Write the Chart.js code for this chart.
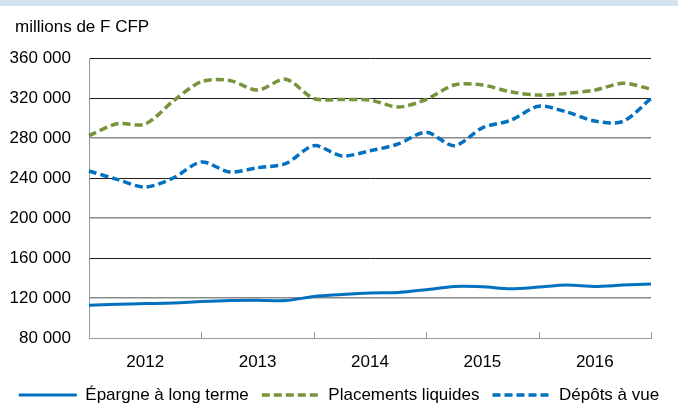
<!DOCTYPE html>
<html lang="fr">
<head>
<meta charset="UTF-8">
<title>Épargne des ménages</title>
<script src="https://cdn.jsdelivr.net/npm/chart.js"></script>
<style>
  body { margin: 0; background: #fff; }
  #cadre { position: relative; width: 678px; height: 415px; }
  #graphique { position: absolute; left: 0; top: 0; }
  #bandeau { position: absolute; left: 0; top: 0; width: 678px; height: 6px; background: #d5e2f2; }
  #unite { position: absolute; left: 15px; top: 17px; font: 17px "Liberation Sans", Arial, sans-serif; color: #000; }
</style>
</head>
<body>
<div id="cadre">
  <canvas id="graphique" width="678" height="415"></canvas>
  <div id="bandeau"></div>
  <div id="unite">millions de F CFP</div>
</div>
<script>
// trimestres (fin de période), de fin 2011 à fin 2016
const trimestres = [
  'T4 2011',
  'T1 2012', 'T2 2012', 'T3 2012', 'T4 2012',
  'T1 2013', 'T2 2013', 'T3 2013', 'T4 2013',
  'T1 2014', 'T2 2014', 'T3 2014', 'T4 2014',
  'T1 2015', 'T2 2015', 'T3 2015', 'T4 2015',
  'T1 2016', 'T2 2016', 'T3 2016', 'T4 2016'
];
const annees = ['2012', '2013', '2014', '2015', '2016'];

// valeurs en millions de F CFP
const epargneLongTerme = [112700, 113700, 114400, 115100, 116400, 117400, 117700, 117400, 121500, 123500, 125000,
  125500, 128300, 131600, 131300, 129300, 130900, 132900, 131600, 132900, 133900];
const placementsLiquides = [282400, 294200, 294000, 317000, 336300, 337500, 327900, 338700, 319500, 318500, 318000,
  311000, 318500, 333000, 333000, 326200, 322900, 324600, 327900, 334700, 328900];
const depotsAVue = [247000, 238600, 231000, 240000, 256000, 246000, 250300, 254400, 272300, 262100, 267200,
  274000, 285700, 272300, 290200, 297600, 311700, 306000, 296900, 296600, 319500];

const bleu = '#0070c0';
const vert = '#77933c';

Chart.defaults.font.family = '"Liberation Sans", Arial, sans-serif';
Chart.defaults.font.size = 17;
Chart.defaults.color = '#000';

// petites graduations vers l'intérieur, une par année
const graduations = {
  id: 'graduations',
  afterDatasetsDraw(chart) {
    const ctx = chart.ctx;
    const x = chart.scales.x;
    const bas = chart.chartArea.bottom;
    ctx.save();
    ctx.strokeStyle = '#999';
    ctx.lineWidth = 1;
    for (let i = 0; i < trimestres.length; i += 4) {
      const px = Math.round(x.getPixelForValue(i)) + 0.5;
      ctx.beginPath();
      ctx.moveTo(px, bas);
      ctx.lineTo(px, bas - 6);
      ctx.stroke();
    }
    ctx.restore();
  }
};

function formatMilliers(v) {
  return String(v).replace(/\B(?=(\d{3})+(?!\d))/g, ' ');
}

new Chart(document.getElementById('graphique'), {
  type: 'line',
  data: {
    labels: trimestres,
    datasets: [
      {
        label: 'Épargne à long terme',
        data: epargneLongTerme,
        borderColor: bleu,
        backgroundColor: bleu,
        borderWidth: 3
      },
      {
        label: 'Placements liquides',
        data: placementsLiquides,
        borderColor: vert,
        backgroundColor: vert,
        borderWidth: 3.5,
        borderDash: [8, 4]
      },
      {
        label: 'Dépôts à vue',
        data: depotsAVue,
        borderColor: bleu,
        backgroundColor: bleu,
        borderWidth: 3.5,
        borderDash: [8, 4]
      }
    ]
  },
  options: {
    responsive: false,
    animation: false,
    elements: {
      point: { radius: 0 },
      line: { tension: 0.3, fill: false }
    },
    layout: { padding: { top: 58, right: 0, bottom: 1.5, left: 0 } },
    scales: {
      x: {
        afterFit: s => { s.height = 35.5; },
        grid: { drawOnChartArea: false, drawTicks: false },
        border: { color: '#999' },
        ticks: {
          autoSkip: false,
          maxRotation: 0,
          minRotation: 0,
          padding: 14,
          callback: (v, i) => (i % 4 === 2 ? annees[(i - 2) / 4] : '')
        }
      },
      y: {
        min: 80000,
        max: 360000,
        afterFit: s => { s.width = 89; },
        border: { color: '#999' },
        grid: {
          drawTicks: false,
          color: c => ([280000, 200000, 120000].includes(c.tick.value) ? '#8a8a8a' : '#1e1e1e'),
          lineWidth: c => ([280000, 200000, 120000].includes(c.tick.value) ? 1.6 : 1)
        },
        ticks: {
          stepSize: 40000,
          padding: 18,
          callback: v => formatMilliers(v)
        }
      },
      // axe vide à droite : garde la marge sans rétrécir la légende
      marge: {
        position: 'right',
        afterFit: s => { s.width = 27; },
        grid: { display: false },
        border: { display: false },
        ticks: { display: false }
      }
    },
    plugins: {
      legend: {
        position: 'bottom',
        labels: {
          usePointStyle: true,
          pointStyle: 'line',
          pointStyleWidth: 58,
          padding: 13,
          color: '#000',
          generateLabels: chart => Chart.defaults.plugins.legend.labels.generateLabels(chart).map(item => {
            const ds = chart.data.datasets[item.datasetIndex];
            item.lineDash = ds.borderDash || [];
            item.lineWidth = ds.borderWidth;
            item.strokeStyle = ds.borderColor;
            return item;
          })
        }
      },
      tooltip: { enabled: false }
    }
  },
  plugins: [graduations]
});
</script>
</body>
</html>
